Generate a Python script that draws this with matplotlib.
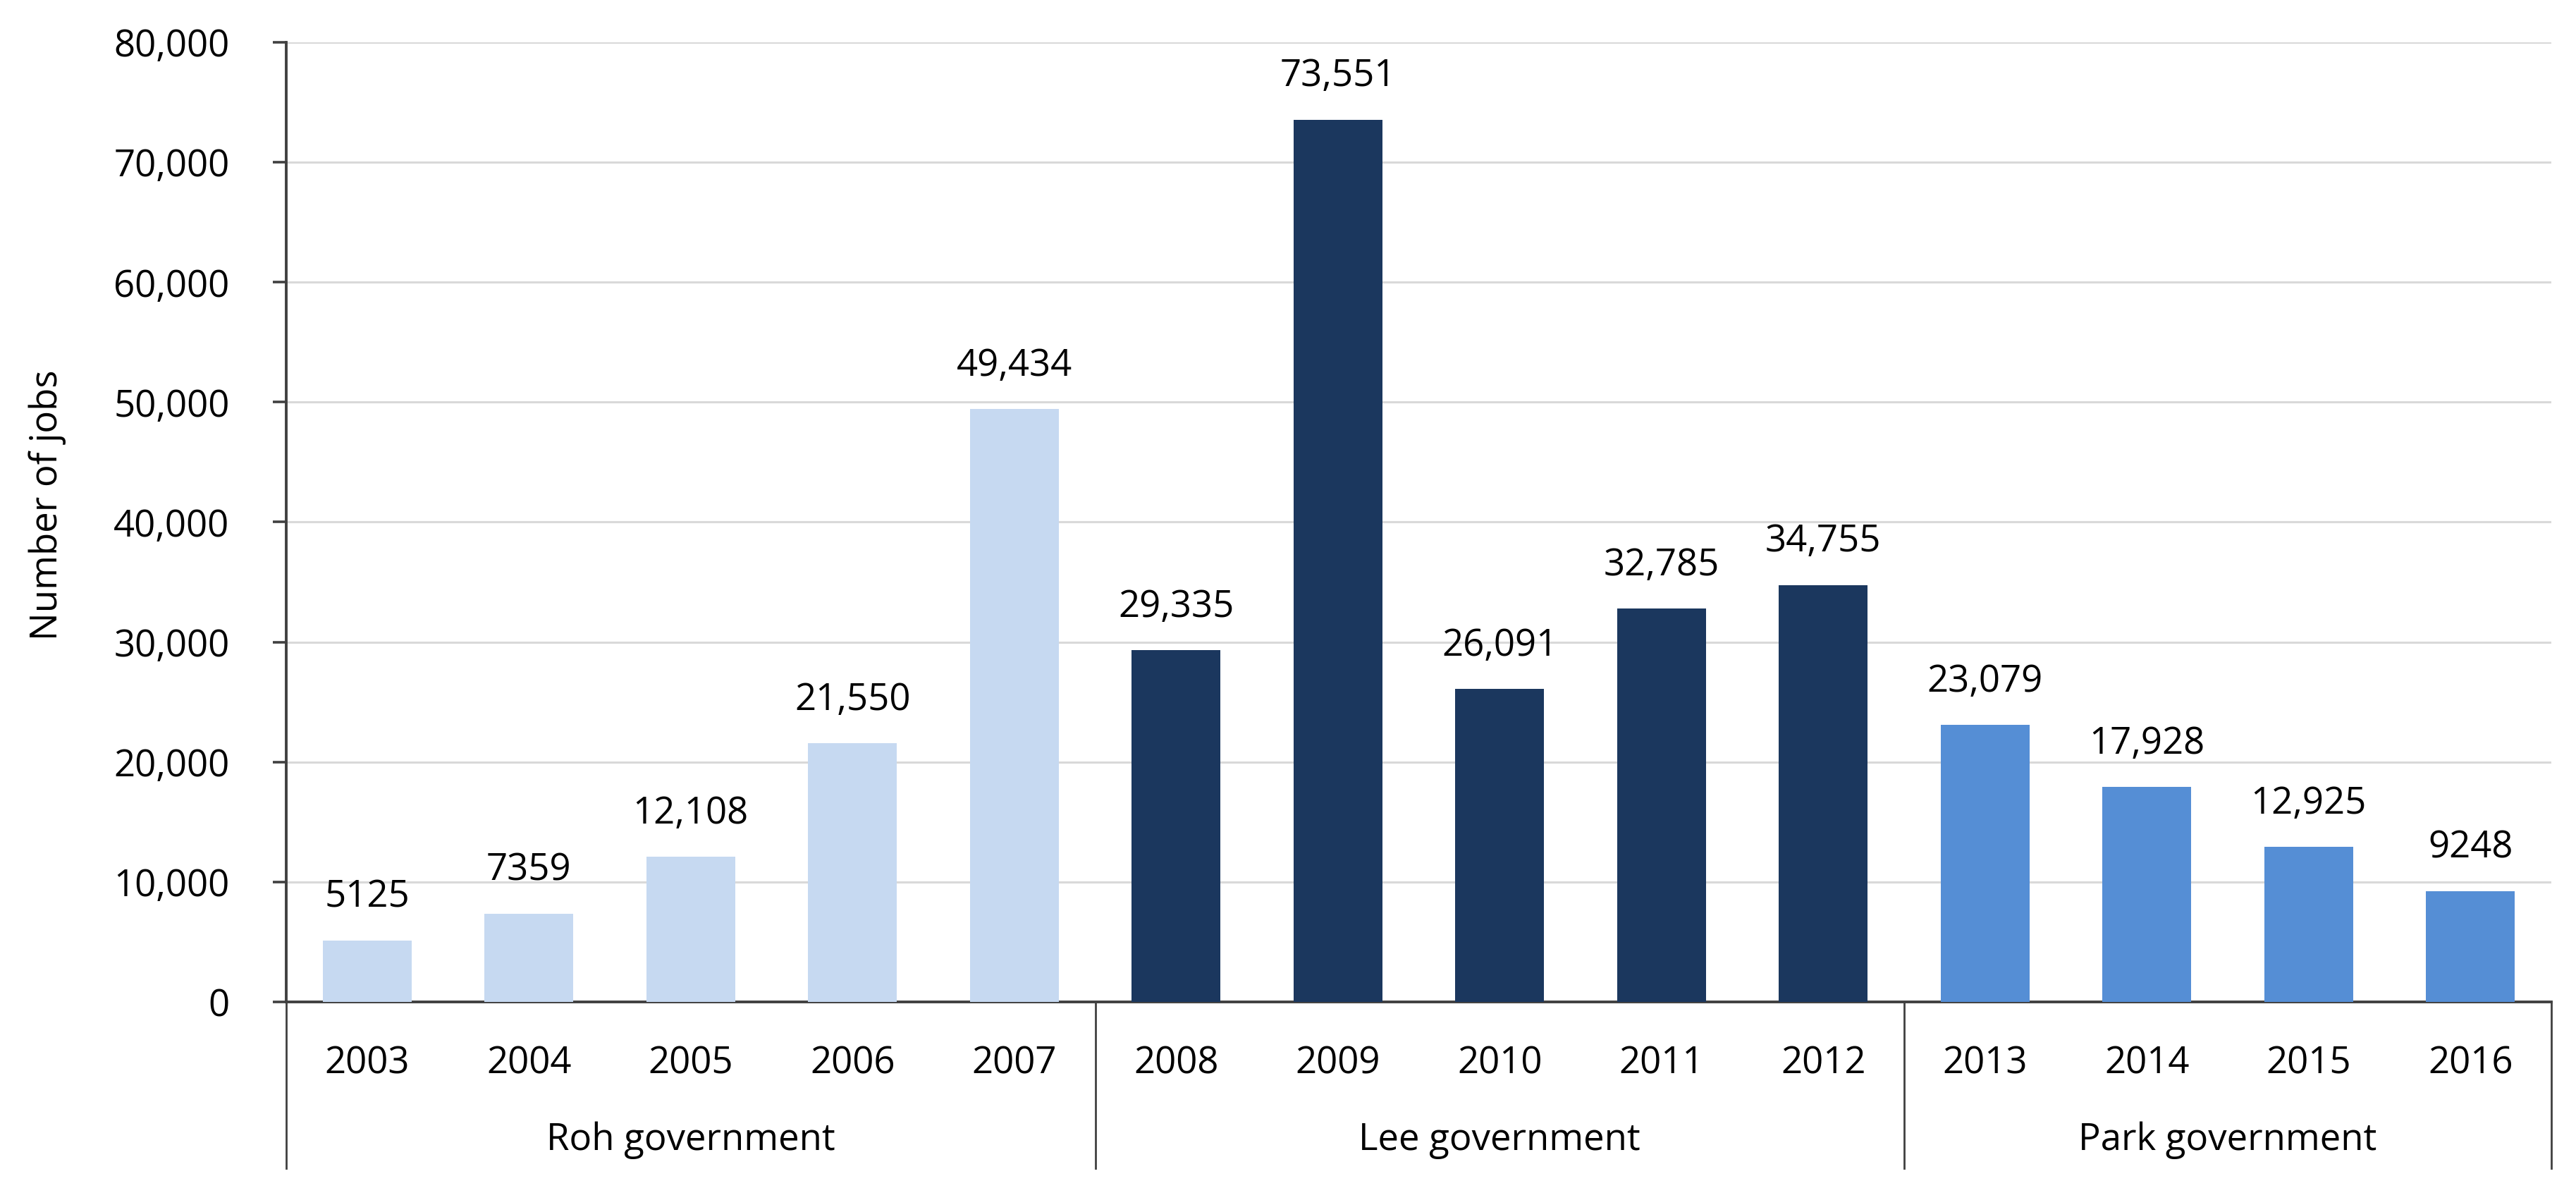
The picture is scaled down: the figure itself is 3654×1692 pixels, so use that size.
import matplotlib
matplotlib.use("Agg")
import matplotlib.pyplot as plt
import matplotlib.transforms as mtransforms

plt.rcParams['font.family'] = ['Open Sans', 'DejaVu Sans']

years = ['2003', '2004', '2005', '2006', '2007',
         '2008', '2009', '2010', '2011', '2012',
         '2013', '2014', '2015', '2016']
jobs = [5125, 7359, 12108, 21550, 49434,
        29335, 73551, 26091, 32785, 34755,
        23079, 17928, 12925, 9248]
governments = ['Roh government', 'Lee government', 'Park government']
gov_sizes = [5, 5, 4]
gov_colors = ['#C6D9F1', '#1B375E', '#558ED5']
yticks = [0, 10000, 20000, 30000, 40000, 50000, 60000, 70000, 80000]

W, H = 3654, 1692
DPI = 200
fig = plt.figure(figsize=(W / DPI, H / DPI), dpi=DPI)
left, right, bottom, top = 406 / W, 3619 / W, 1 - 1421 / H, 1 - 60 / H
ax = fig.add_axes([left, bottom, right - left, top - bottom])

colors = []
for c, n in zip(gov_colors, gov_sizes):
    colors += [c] * n

x = list(range(len(years)))
ax.bar(x, jobs, width=0.55, color=colors, zorder=3)

ax.set_xlim(-0.5, len(years) - 0.5)
ax.set_ylim(0, 80000)
ax.set_yticks(yticks)
ax.set_yticklabels([f"{v:,}" for v in yticks], fontsize=19)
ax.yaxis.grid(True, color='#D9D9D9', linewidth=1.1, zorder=0)
ax.tick_params(axis='y', length=7, width=1.3, color='#404040', pad=22)

ax.set_xticks(x)
ax.set_xticklabels(years, fontsize=19)
ax.tick_params(axis='x', length=0, pad=22)

for s in ['top', 'right']:
    ax.spines[s].set_visible(False)
for s in ['left', 'bottom']:
    ax.spines[s].set_color('#404040')
    ax.spines[s].set_linewidth(1.4)

for xi, v in zip(x, jobs):
    lab = f"{v:,}" if v >= 10000 else str(v)
    ax.annotate(lab, (xi, v), xytext=(0, 22), textcoords='offset points',
                ha='center', va='center', fontsize=19)

trans = mtransforms.blended_transform_factory(ax.transData, ax.transAxes)
axh = 1421 - 60
sep_bottom = -(1657 - 1421) / axh
bounds = [-0.5]
for n in gov_sizes:
    bounds.append(bounds[-1] + n)
for b in bounds:
    ax.plot([b, b], [0, sep_bottom], transform=trans, color='#404040',
            linewidth=1.0, clip_on=False, zorder=4)
gov_y = -(1617 - 1421) / axh
for g, a, b in zip(governments, bounds[:-1], bounds[1:]):
    ax.text((a + b) / 2, gov_y, g, transform=trans, ha='center', va='center',
            fontsize=19)

fig.text(67 / W, 1 - 716 / H, 'Number of jobs', rotation=90, ha='center',
         va='center', fontsize=19)

fig.savefig('out.png', dpi=DPI, facecolor='white')
